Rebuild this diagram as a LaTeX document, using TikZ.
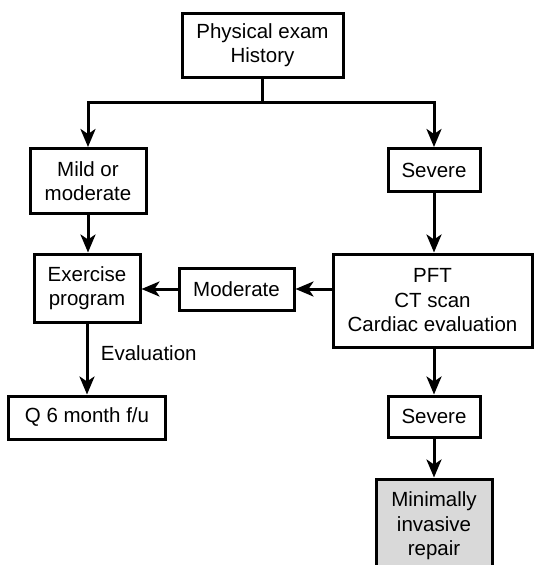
\documentclass[tikz,border=0pt]{standalone}
\usepackage{fontspec}
\setmainfont{Liberation Sans}
\usepackage{xcolor}
\usepackage{tikz}
\usetikzlibrary{arrows.meta}

\begin{document}
\begin{tikzpicture}[
    x=1pt, y=-1pt,
    every node/.style={font=\fontsize{20.5}{24.5}\selectfont},
    box/.style={rectangle, draw, line width=3pt, align=center, inner sep=0pt, fill=white},
    arrow/.style={-{Stealth[length=18pt, width=15pt, inset=5pt]}, line width=3pt},
    link/.style={line width=3pt},
]
\useasboundingbox (0,0) rectangle (534,565);
\node[box, minimum width=161pt, minimum height=64pt] (exam) at (262.5,45) {Physical exam\\History};
\node[box, minimum width=116pt, minimum height=65pt] (mild) at (88,181) {Mild or\\moderate};
\node[box, minimum width=92pt, minimum height=43pt] (severe) at (434,170) {Severe};
\node[box, minimum width=106pt, minimum height=68pt] (exer) at (87,288) {Exercise\\program};
\node[box, minimum width=115pt, minimum height=42pt] (moder) at (236.5,289) {Moderate};
\node[box, minimum width=199pt, minimum height=93pt] (tests) at (432.5,300.5) {PFT\\CT scan\\Cardiac evaluation};
\node[box, minimum width=157pt, minimum height=43pt] (fu) at (87,417.5) {Q 6 month f/u};
\node[box, minimum width=92pt, minimum height=41pt] (severe2) at (434,416.5) {Severe};
\node[box, fill=gray!30, minimum width=116pt, minimum height=94pt] (repair) at (434,526) {Minimally\\invasive\\repair};
\coordinate (split) at (262.5,102);
\draw[link] (exam.south) -- (split);
\draw[arrow] (split) -| (mild.north);
\draw[arrow] (split) -| (severe.north);
\draw[arrow] (mild.south) -- (mild.south |- exer.north);
\draw[arrow] (severe.south) -- (severe.south |- tests.north);
\draw[arrow] (tests.west |- moder.east) -- (moder.east);
\draw[arrow] (moder.west) -- (exer.east |- moder.west);
\draw[arrow] (exer.south) -- (fu.north) node[pos=0.42, right=9pt] {Evaluation};
\draw[arrow] (tests.south -| severe2) -- (severe2.north);
\draw[arrow] (severe2.south) -- (repair.north);
\end{tikzpicture}
\end{document}
